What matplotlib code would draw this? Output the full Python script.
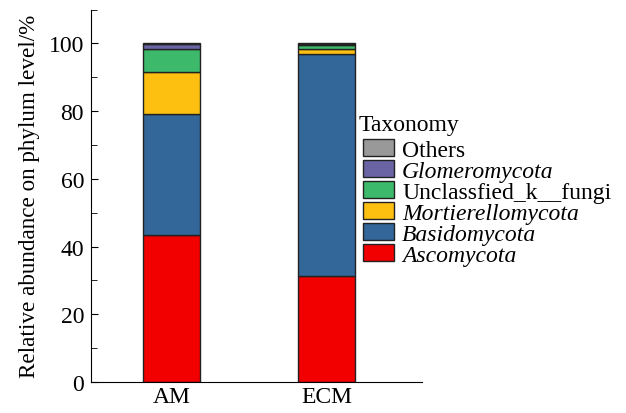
import numpy as np
import matplotlib
matplotlib.use('Agg')
import matplotlib.pyplot as plt
from matplotlib.ticker import MultipleLocator

plt.rcParams['font.family'] = ['Liberation Serif', 'DejaVu Serif']

groups = ['AM', 'ECM']
taxa = ['Ascomycota', 'Basidomycota', 'Mortierellomycota',
        'Unclassfied_k__fungi', 'Glomeromycota', 'Others']
ascomycota = [43.3, 31.2]
basidomycota = [35.9, 65.8]
mortierellomycota = [12.4, 1.2]
unclassified = [6.6, 1.4]
glomeromycota = [1.5, 0.2]
others = [0.3, 0.2]
colors = ['#f20000', '#336699', '#fdc010', '#3cb96a', '#6a64a4', '#999999']
italic = [True, True, True, False, True, False]

values = [ascomycota, basidomycota, mortierellomycota, unclassified, glomeromycota, others]

fig = plt.figure(figsize=(6.26, 4.14), dpi=100)
ax = fig.add_axes([0.1454, 0.0749, 0.674 - 0.1454, 0.9746 - 0.0749])

x = np.arange(len(groups))
bottom = np.zeros(len(groups))
handles = []
for name, vals, c in zip(taxa, values, colors):
    h = ax.bar(x, vals, 0.368, bottom=bottom, color=c, edgecolor='#222222',
               linewidth=1.0, label=name)
    handles.append(h)
    bottom += np.array(vals)

fs = 17
ax.set_xlim(-0.52, 1.616)
ax.set_ylim(0, 110)
ax.set_xticks(x)
ax.set_xticklabels(groups)
ax.yaxis.set_major_locator(MultipleLocator(20))
ax.yaxis.set_minor_locator(MultipleLocator(10))
ax.tick_params(axis='y', which='both', direction='in', labelsize=fs, pad=5)
ax.tick_params(axis='y', which='major', length=5)
ax.tick_params(axis='y', which='minor', length=4)
ax.tick_params(axis='x', length=0, labelsize=fs, pad=3)
ax.spines['top'].set_visible(False)
ax.spines['right'].set_visible(False)
ax.set_ylabel('Relative abundance on phylum level/%', fontsize=16.7, labelpad=6)

# legend title drawn separately so the gap above the entries matches
fig.text(0.573, 0.684, 'Taxonomy', fontsize=fs, ha='left', va='baseline')
leg = fig.legend(handles[::-1], taxa[::-1], loc='upper left',
                 bbox_to_anchor=(0.580, 0.662), frameon=False, fontsize=fs,
                 handlelength=1.31, handleheight=0.76, labelspacing=-0.04,
                 handletextpad=0.34, borderpad=0, borderaxespad=0)
for t, it in zip(leg.get_texts(), italic[::-1]):
    if it:
        t.set_fontstyle('italic')

fig.savefig('out.png', dpi=100)
